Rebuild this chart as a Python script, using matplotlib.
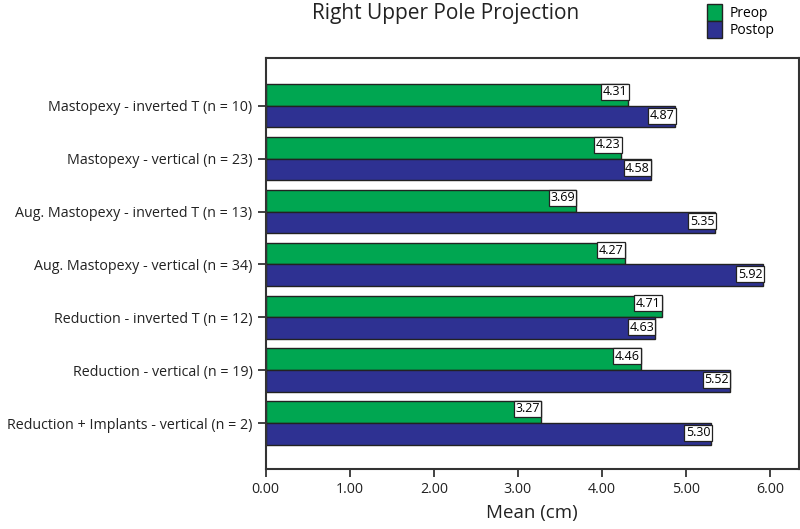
import matplotlib.pyplot as plt
import numpy as np
from matplotlib.patches import Patch

plt.rcParams['font.family'] = ['Open Sans', 'DejaVu Sans']

groups = [
    "Mastopexy - inverted T (n = 10)",
    "Mastopexy - vertical (n = 23)",
    "Aug. Mastopexy - inverted T (n = 13)",
    "Aug. Mastopexy - vertical (n = 34)",
    "Reduction - inverted T (n = 12)",
    "Reduction - vertical (n = 19)",
    "Reduction + Implants - vertical (n = 2)",
]
preop = [4.31, 4.23, 3.69, 4.27, 4.71, 4.46, 3.27]
postop = [4.87, 4.58, 5.35, 5.92, 4.63, 5.52, 5.30]
xticks = [0, 1, 2, 3, 4, 5, 6]

green = '#00a651'
blue = '#2e3192'

fig = plt.figure(figsize=(8, 5.29), dpi=100)
ax = fig.add_axes([265.7 / 800, 1 - 469 / 529, (798.5 - 265.7) / 800, (469 - 57.7) / 529])

y = np.arange(len(groups))
h = 0.41
ax.barh(y - h / 2, preop, height=h, color=green, edgecolor='#222222', linewidth=1)
ax.barh(y + h / 2, postop, height=h, color=blue, edgecolor='#222222', linewidth=1)

box = dict(boxstyle='square,pad=0.12', fc='white', ec='#222222', lw=0.9)
for i in range(len(groups)):
    ax.text(preop[i] - 0.01, y[i] - h / 2 - 0.06, f"{preop[i]:.2f}", ha='right', va='center',
            fontsize=9, bbox=box)
    ax.text(postop[i] - 0.01, y[i] + h / 2 - 0.02, f"{postop[i]:.2f}", ha='right', va='center',
            fontsize=9, bbox=box)

ax.set_ylim(len(groups) - 1 + 0.87, -0.91)
ax.set_xlim(0, 6.34)
ax.set_yticks(y)
ax.set_yticklabels(groups, fontsize=10.3, color='#222222')
ax.set_xticks(xticks)
ax.set_xticklabels([f"{v:.2f}" for v in xticks], fontsize=10.3, color='#222222')
ax.tick_params(length=6, width=1.2, color='#222222')
for s in ax.spines.values():
    s.set_linewidth(1.5)
    s.set_color('#333333')

ax.set_xlabel("Mean (cm)", fontsize=13.5, color='#222222', labelpad=5)
fig.text(446 / 800, 1 - 13 / 529, "Right Upper Pole Projection", ha='center', va='center',
         fontsize=15, color='#222222')

handles = [Patch(facecolor=green, edgecolor='#222222', label='Preop'),
           Patch(facecolor=blue, edgecolor='#222222', label='Postop')]
fig.legend(handles=handles, loc='upper left', bbox_to_anchor=(703 / 800, 1.0), frameon=False,
           fontsize=10, handlelength=1.1, handleheight=1.5, labelspacing=0.0, handletextpad=0.5,
           borderaxespad=0.1, borderpad=0.2)

fig.savefig("out.png", dpi=100)
